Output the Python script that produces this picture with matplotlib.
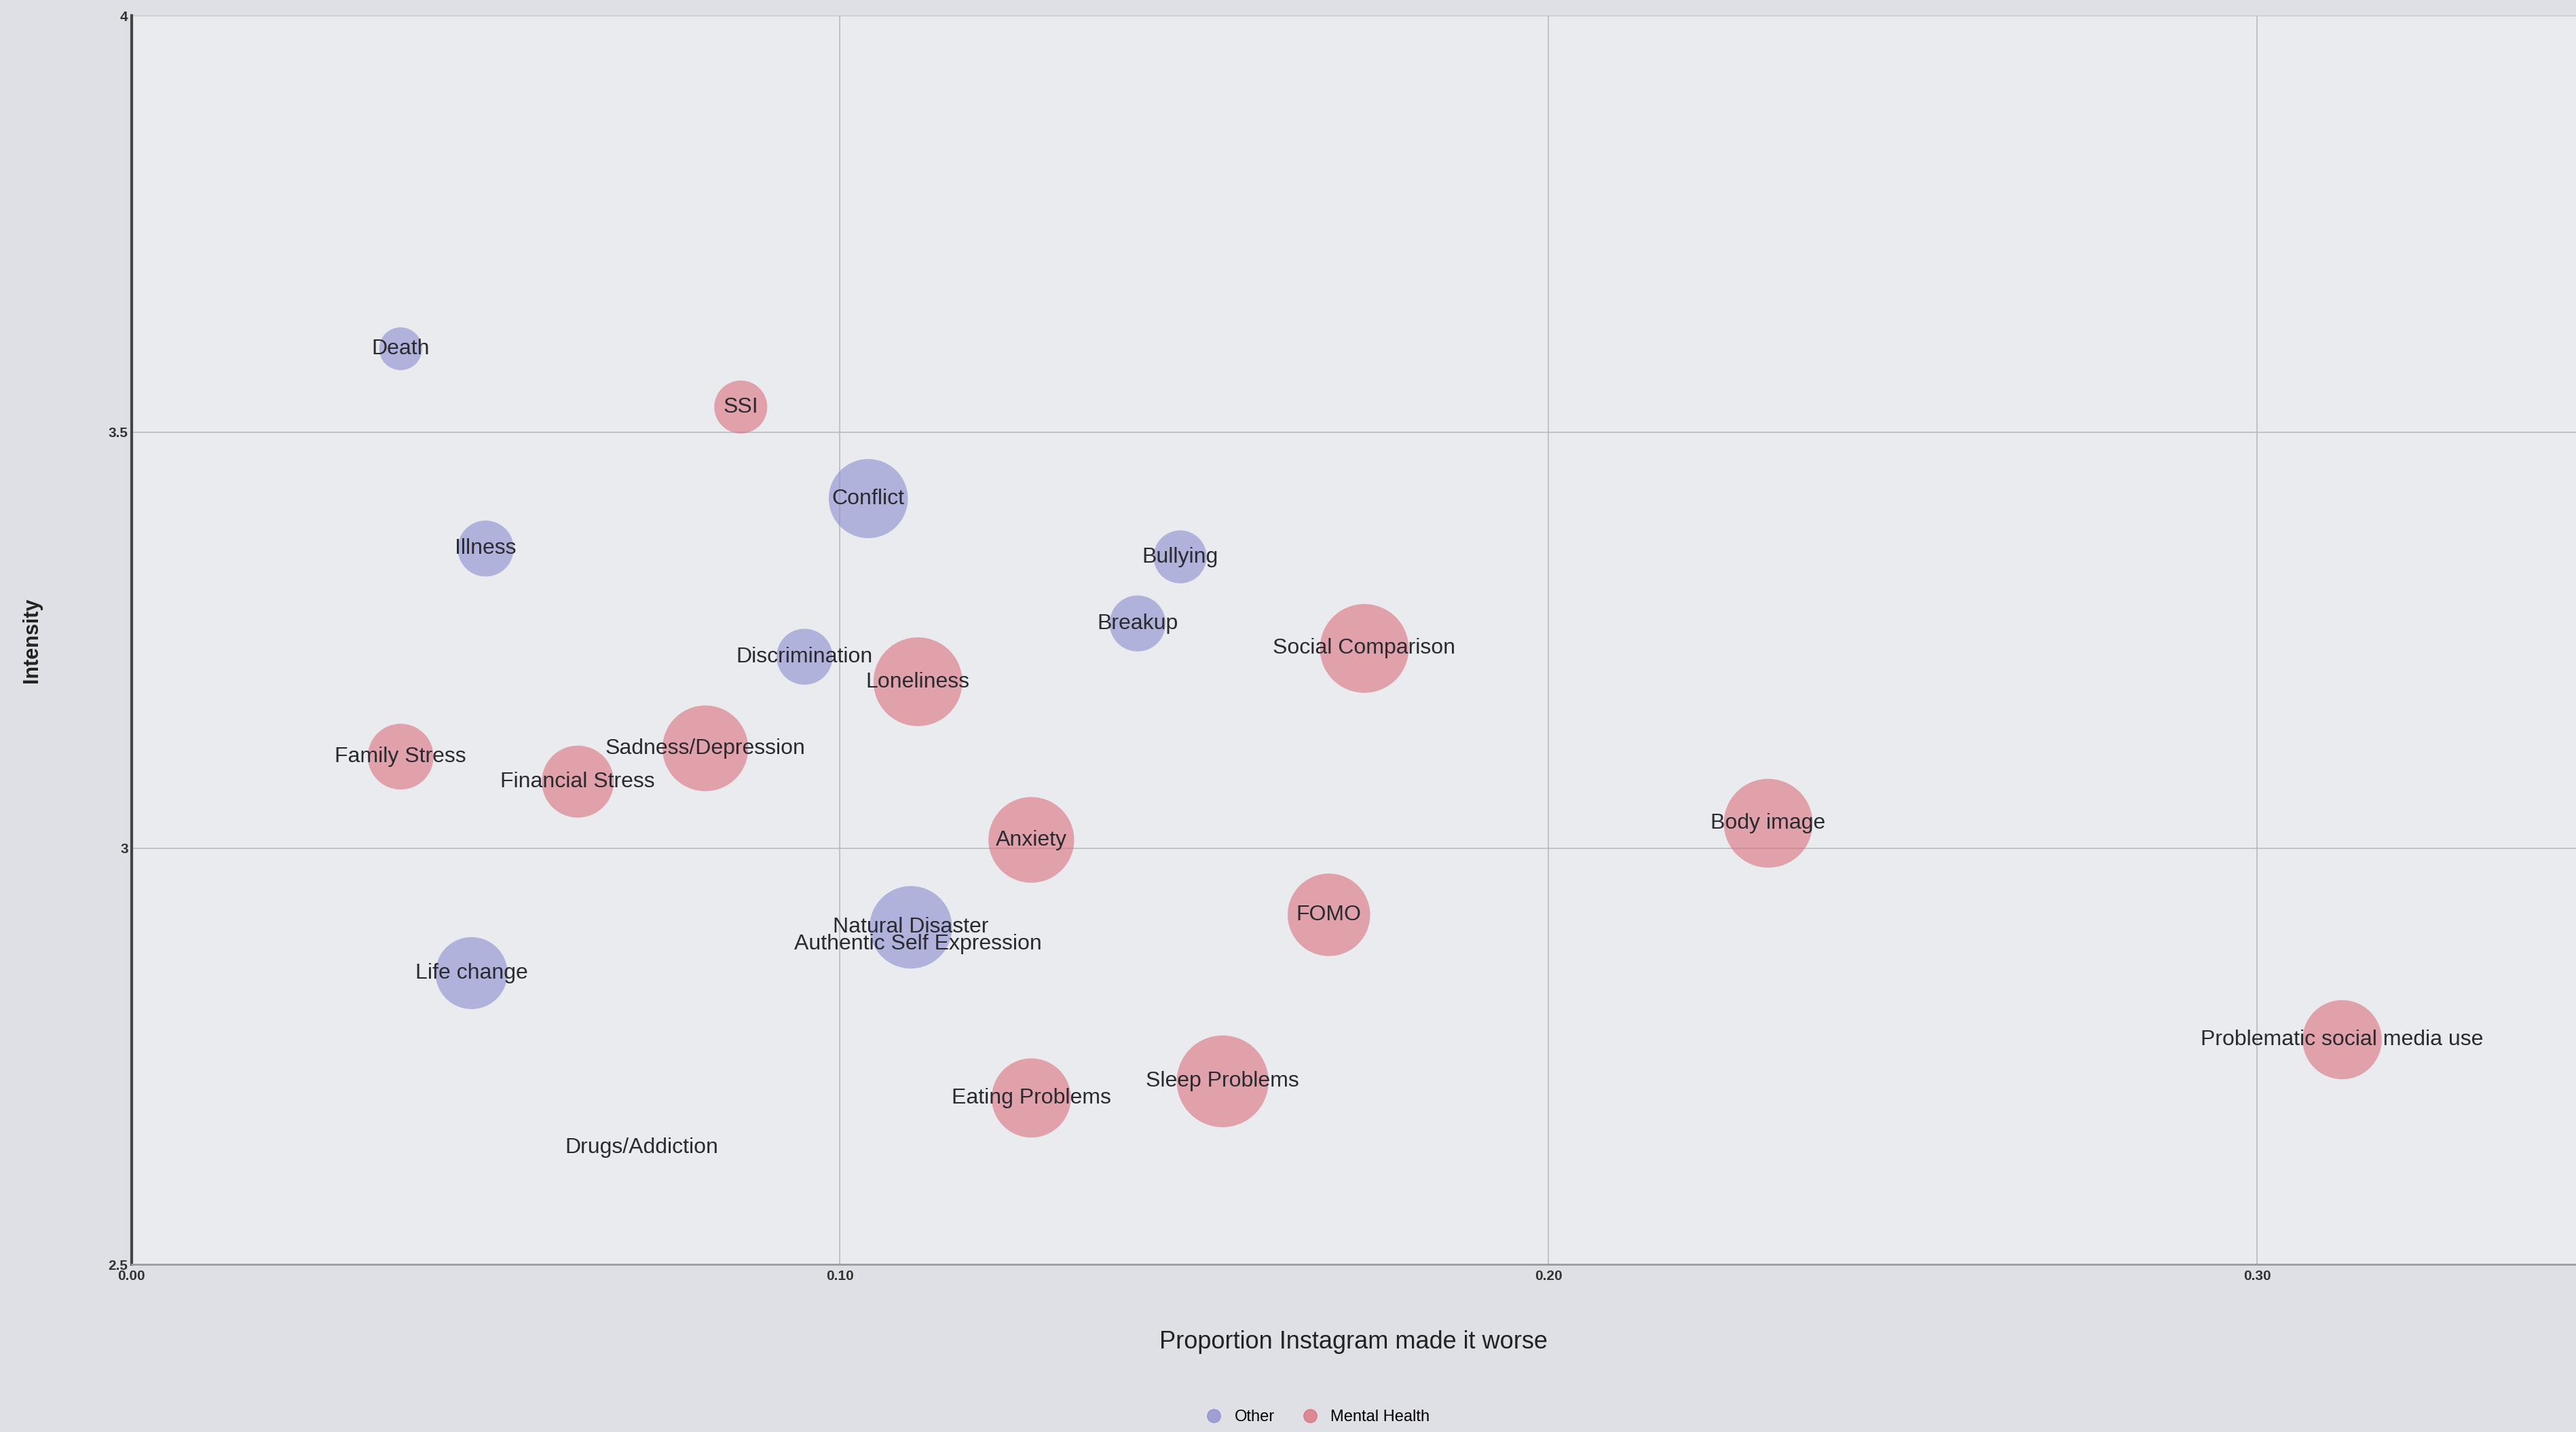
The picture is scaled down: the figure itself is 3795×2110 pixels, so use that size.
import matplotlib
matplotlib.use('Agg')
import matplotlib.pyplot as plt
from matplotlib.lines import Line2D

plt.rcParams['font.family'] = ['Liberation Sans', 'DejaVu Sans']

# ─── Datos ───────────────────────────────────────────────────────────────────
TOPICS = [
    "Death", "SSI", "Conflict", "Illness", "Bullying", "Breakup",
    "Social Comparison", "Discrimination", "Loneliness", "Family Stress",
    "Financial Stress", "Sadness/Depression", "Anxiety", "Body image",
    "FOMO", "Natural Disaster", "Authentic Self Expression", "Life change",
    "Eating Problems", "Sleep Problems", "Problematic social media use",
    "Drugs/Addiction",
]
PROP_WORSE = [
    0.038, 0.086, 0.104, 0.050, 0.148, 0.142,
    0.174, 0.095, 0.111, 0.038,
    0.063, 0.081, 0.127, 0.231,
    0.169, 0.110, 0.111, 0.048,
    0.127, 0.154, 0.312,
    0.072,
]
INTENSITY = [
    3.60, 3.53, 3.42, 3.36, 3.35, 3.27,
    3.24, 3.23, 3.20, 3.11,
    3.08, 3.12, 3.01, 3.03,
    2.92, 2.905, 2.885, 2.85,
    2.70, 2.72, 2.77,
    2.64,
]
CATEGORY = [
    "Other", "Mental Health", "Other", "Other", "Other", "Other",
    "Mental Health", "Other", "Mental Health", "Mental Health",
    "Mental Health", "Mental Health", "Mental Health", "Mental Health",
    "Mental Health", "Other", "Other", "Other",
    "Mental Health", "Mental Health", "Mental Health",
    "Other",
]
# tamaño de burbuja (relativo)
N_SIZE = [
    17, 26, 58, 29, 26, 29,
    73, 29, 73, 40,
    48, 68, 68, 73,
    63, 63, 0, 48,
    58, 78, 58,
    0,
]

COLORS = {"Other": "#8484cc", "Mental Health": "#dc6472"}

# ─── Figura ──────────────────────────────────────────────────────────────────
fig = plt.figure(figsize=(37.95, 21.10), dpi=100, facecolor='#dfe0e6')
ax = fig.add_axes([0.051, 0.117, 0.949, 0.872], facecolor='#e9ebee')

for cat in ("Other", "Mental Health"):
    idx = [i for i, c in enumerate(CATEGORY) if c == cat]
    ax.scatter([PROP_WORSE[i] for i in idx], [INTENSITY[i] for i in idx],
               s=[N_SIZE[i] * 121.5 for i in idx], color=COLORS[cat],
               alpha=0.55, edgecolors='none', zorder=3)

for t, x, y in zip(TOPICS, PROP_WORSE, INTENSITY):
    ax.text(x, y, t, ha='center', va='center', fontsize=23,
            color='#2a2a30', zorder=4)

ax.set_xlim(0, 0.345)
ax.set_ylim(2.5, 4)
ax.set_xticks([0.0, 0.1, 0.2, 0.3])
ax.set_xticklabels(["0.00", "0.10", "0.20", "0.30"])
ax.set_yticks([2.5, 3, 3.5, 4])
ax.set_yticklabels(["2.5", "3", "3.5", "4"])
ax.tick_params(axis='both', length=0, labelsize=15, colors='#333333')
ax.tick_params(axis='x', pad=6)
for lbl in ax.get_xticklabels() + ax.get_yticklabels():
    lbl.set_fontweight('bold')
ax.grid(True, color='#b8bac2', linewidth=1.2, zorder=0)
for sp in ('top', 'right'):
    ax.spines[sp].set_visible(False)
ax.spines['left'].set_color('#444444')
ax.spines['left'].set_linewidth(3)
ax.spines['bottom'].set_color('#9a9ca4')
ax.spines['bottom'].set_linewidth(2)

ax.set_xlabel("Proportion Instagram made it worse", fontsize=26,
              color='#222222', labelpad=50)
ax.set_ylabel("Intensity", fontsize=22, color='#222222', labelpad=70,
              fontweight='bold')

handles = [Line2D([], [], marker='o', linestyle='none', markersize=14,
                  color=COLORS[c], alpha=0.7, label=c)
           for c in ("Other", "Mental Health")]
fig.legend(handles=handles, loc='lower center', bbox_to_anchor=(0.51, -0.005),
           ncol=2, frameon=False, fontsize=17, handletextpad=0.3,
           columnspacing=1.2)

plt.savefig('out.png', dpi=100, facecolor=fig.get_facecolor())
